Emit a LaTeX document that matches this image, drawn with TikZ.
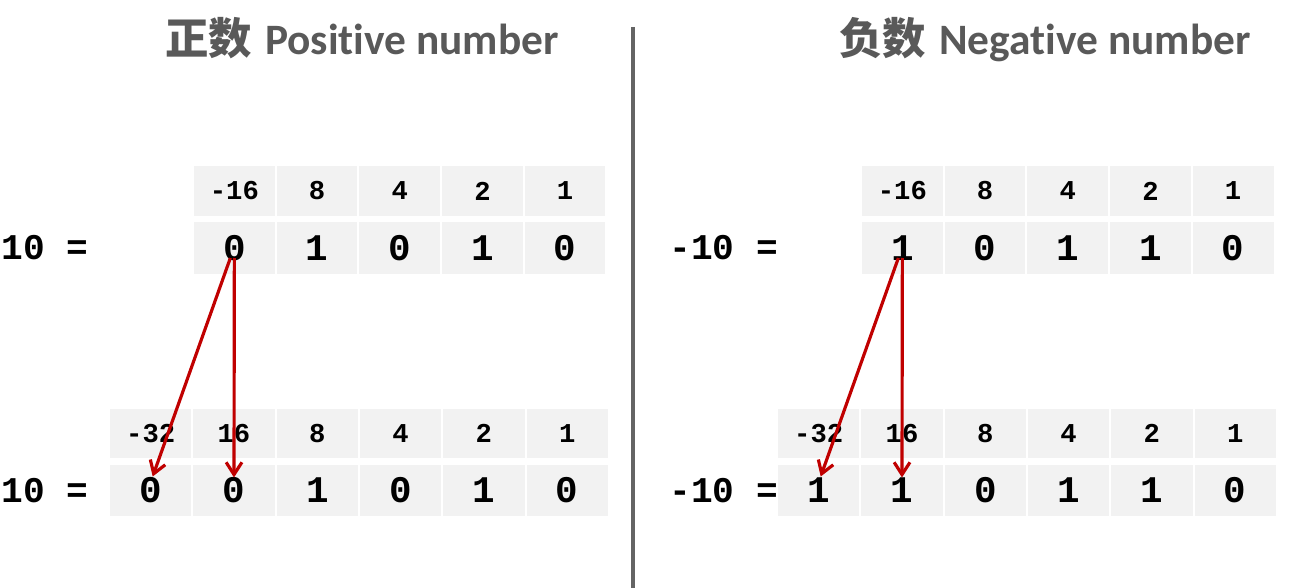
\documentclass[tikz,border=0pt]{standalone}
\usepackage{fontspec}
\newfontfamily\titlefont{Carlito}[Ligatures=NoCommon]
\newfontfamily\cjkfont{Noto Sans CJK SC}
\newfontfamily\bitfont{Liberation Mono}
\usetikzlibrary{arrows.meta,calc}
\definecolor{cellgray}{RGB}{242,242,242}
\definecolor{titlegray}{RGB}{89,89,89}
\definecolor{arrowred}{RGB}{192,0,0}
\definecolor{rulegray}{RGB}{100,100,100}

\begin{document}
\begin{tikzpicture}[x=0.02cm,y=-0.02cm,
  cell/.style={fill=cellgray,inner sep=0pt},
  headcell/.style={cell,minimum height=1cm,font=\bitfont\bfseries\fontsize{15.5}{15.5}\selectfont},
  bitcell/.style={cell,minimum height=1.04cm,font=\bitfont\bfseries\fontsize{21.4}{21.4}\selectfont},
  eqlabel/.style={anchor=west,inner sep=0pt,font=\bitfont\bfseries\fontsize{20.6}{20.6}\selectfont},
  heading/.style={anchor=base,text=titlegray,inner sep=0pt,font=\fontsize{24.7}{24.7}\selectfont},
  signarrow/.style={-{Straight Barb[length=7pt,width=9pt]},arrowred,line width=1.8pt}]
  \useasboundingbox (0,0) rectangle (1289,588);

  % titles and divider
  \node[heading] (ptitle) at (362,55) {{\cjkfont\bfseries 正数} {\titlefont\bfseries Positive number}};
  \node[heading] (ntitle) at (1045,55) {{\cjkfont\bfseries 负数} {\titlefont\bfseries Negative number}};
  \draw[rulegray,line width=2pt] (633,27) -- (633,588);

  \foreach \s/\dx/\val/\topbits/\botbits in {p/0/10/{0,1,0,1,0}/{0,0,1,0,1,0},
                                             n/668/-10/{1,0,1,1,0}/{1,1,0,1,1,0}} {
    % 5 bit form
    \foreach \w [count=\i] in {-16,8,4,2,1}
      \node[headcell,minimum width=1.614cm] (\s h\i) at ({\dx+234.35+82.7*(\i-1)},191) {\w};
    \foreach \b [count=\i] in \topbits
      \node[bitcell,minimum width=1.614cm] (\s t\i) at ({\dx+234.35+82.7*(\i-1)},248) {\b};
    \node[eqlabel] (\s eqa) at ({\dx+1},248) {\val\ =};
    % 6 bit form
    \foreach \w [count=\i] in {-32,16,8,4,2,1}
      \node[headcell,minimum width=1.626cm] (\s H\i) at ({\dx+150.7+83.3*(\i-1)},433.5) {\w};
    \foreach \b [count=\i] in \botbits
      \node[bitcell,minimum width=1.626cm] (\s b\i) at ({\dx+150.7+83.3*(\i-1)},490.5) {\b};
    \node[eqlabel] (\s eqb) at ({\dx+1},491) {\val\ =};
    % sign extension
    \draw[signarrow] ($(\s t1.center)+(-4,10)$) -- ($(\s b1.center)+(2,-14)$);
    \draw[signarrow] ($(\s t1.center)+(0,10)$) -- ($(\s b2.center)+(0,-13)$);
  }
\end{tikzpicture}
\end{document}
